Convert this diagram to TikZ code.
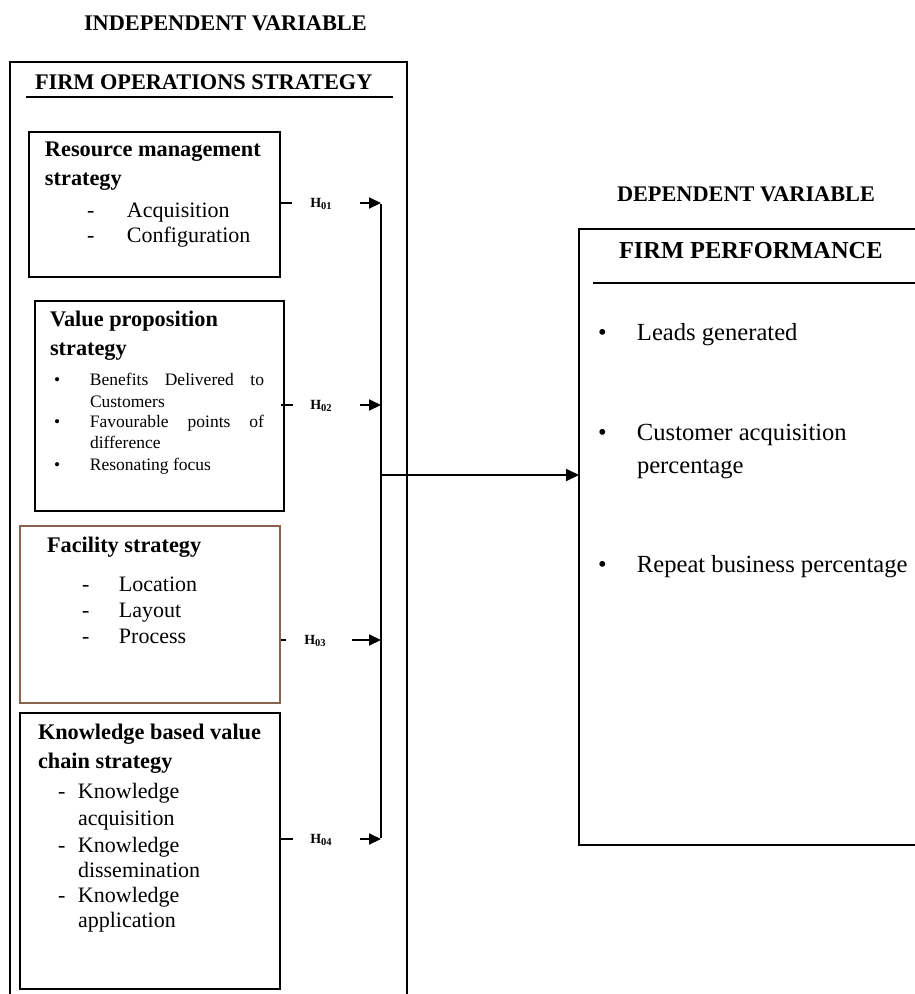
\documentclass[tikz,border=0pt]{standalone}
\usepackage{fontspec}
\setmainfont{Liberation Serif}
\usetikzlibrary{arrows.meta}
\definecolor{brownline}{RGB}{135,98,78}
\newcommand\myhd{\fontsize{22.3}{26}\selectfont\bfseries}
\newcommand\mybd{\fontsize{22}{26}\selectfont}
\newcommand\mysm{\fontsize{17.5}{21}\selectfont}
\newcommand\mybig{\fontsize{24.6}{29}\selectfont}
\newcommand\hlab[1]{\fontsize{14}{16}\selectfont\bfseries H\raisebox{-2.5pt}{\fontsize{10.5}{12}\selectfont #1}}
\begin{document}
\begin{tikzpicture}[x=1pt,y=-1pt,
  lbl/.style={anchor=base west, inner sep=0pt, outer sep=0pt},
  box/.style={draw, line width=2pt, inner sep=0pt, anchor=north west},
  frame/.style={line width=2pt},
  conn/.style={line width=2pt},
  arr/.style={line width=2pt, -{Triangle[length=13pt,width=12pt]}},
  harr/.style={line width=2pt, -{Triangle[length=12pt,width=11pt]}},
  hl/.style={anchor=center, inner sep=0pt}]
\useasboundingbox (0,0) rectangle (914,994);

% headings
\node[lbl, font=\myhd] (indep) at (84,30) {INDEPENDENT VARIABLE};
\node[lbl, font=\myhd] (dep) at (617,201) {DEPENDENT VARIABLE};

% outer frame (open at bottom)
\node[inner sep=0pt, anchor=north west, minimum width=397pt, minimum height=945pt] (outer) at (10,62) {};
\draw[frame] (outer.south west) -- (outer.north west) -- (outer.north east) -- (outer.south east);
\node[lbl, font={\fontsize{22.3}{26}\selectfont\bfseries}] (fos) at (35,89) {FIRM OPERATIONS STRATEGY};
\draw[line width=1.8pt] (26,97) -- (393,97);

% box 1
\node[box, minimum width=251pt, minimum height=145pt] (b1) at (28,131) {};
\node[lbl, font=\myhd] (b1a) at (45,156) {Resource management};
\node[lbl, font=\myhd] (b1b) at (45,185) {strategy};
\node[lbl, font=\mybd] (b1c) at (87,217) {\makebox[40pt][l]{-}Acquisition};
\node[lbl, font=\mybd] (b1d) at (87,242) {\makebox[40pt][l]{-}Configuration};

% box 2
\node[box, minimum width=249pt, minimum height=210pt] (b2) at (34,300) {};
\node[lbl, font=\myhd] (b2a) at (50,326) {Value proposition};
\node[lbl, font=\myhd] (b2b) at (50,355) {strategy};
\node[lbl, font=\mysm] (b2c) at (54,385) {\makebox[36pt][l]{•}\hbox to 174pt{Benefits\hfill Delivered\hfill to}};
\node[lbl, font=\mysm] (b2d) at (90,407) {Customers};
\node[lbl, font=\mysm] (b2e) at (54,427) {\makebox[36pt][l]{•}\hbox to 174pt{Favourable\hfill points\hfill of}};
\node[lbl, font=\mysm] (b2f) at (90,448) {difference};
\node[lbl, font=\mysm] (b2g) at (54,470) {\makebox[36pt][l]{•}Resonating focus};

% box 3
\node[box, draw=brownline, minimum width=260pt, minimum height=177pt] (b3) at (19,525) {};
\node[lbl, font=\myhd] (b3a) at (47,552) {Facility strategy};
\node[lbl, font=\mybd] (b3b) at (82,591) {\makebox[37pt][l]{-}Location};
\node[lbl, font=\mybd] (b3c) at (82,617) {\makebox[37pt][l]{-}Layout};
\node[lbl, font=\mybd] (b3d) at (82,643) {\makebox[37pt][l]{-}Process};

% box 4
\node[box, minimum width=260pt, minimum height=276pt] (b4) at (19,712) {};
\node[lbl, font=\myhd] (b4a) at (38,739) {Knowledge based value};
\node[lbl, font=\myhd] (b4b) at (38,768) {chain strategy};
\node[lbl, font=\mybd] (b4c) at (58,798) {\makebox[20pt][l]{-}Knowledge};
\node[lbl, font=\mybd] (b4d) at (78,825) {acquisition};
\node[lbl, font=\mybd] (b4e) at (58,852) {\makebox[20pt][l]{-}Knowledge};
\node[lbl, font=\mybd] (b4f) at (78,877) {dissemination};
\node[lbl, font=\mybd] (b4g) at (58,902) {\makebox[20pt][l]{-}Knowledge};
\node[lbl, font=\mybd] (b4h) at (78,927) {application};

% right box (right side cut by page edge)
\node[inner sep=0pt, anchor=north west, minimum width=340pt, minimum height=616pt] (perf) at (579,229) {};
\draw[frame] (perf.north east) -- (perf.north west) -- (perf.south west) -- (perf.south east);
\node[lbl, font={\fontsize{24.4}{29}\selectfont\bfseries}] (fp) at (619,258) {FIRM PERFORMANCE};
\draw[line width=1.8pt] (593,283) -- (916,283);
\node[lbl, font=\mybig] (p1) at (598,340) {\makebox[39pt][l]{•}Leads generated};
\node[lbl, font=\mybig] (p2) at (598,440) {\makebox[39pt][l]{•}Customer acquisition};
\node[lbl, font=\mybig] (p3) at (637,473) {percentage};
\node[lbl, font=\mybig] (p4) at (598,572) {\makebox[39pt][l]{•}Repeat business percentage};

% hypothesis connectors
\coordinate (s1) at (292,203);
\coordinate (s2) at (293,405);
\coordinate (s3) at (286,640);
\coordinate (s4) at (293,839);
\coordinate (a1) at (360,203);
\coordinate (a2) at (360,405);
\coordinate (a3) at (352,640);
\coordinate (a4) at (360,839);
\coordinate (v1) at (381,203);
\coordinate (v2) at (381,405);
\coordinate (v3) at (381,640);
\coordinate (v4) at (381,839);
\coordinate (vm) at (381,475);

\draw[conn] (b1.east |- s1) -- (s1);
\draw[conn] ([xshift=-4pt]b2.east |- s2) -- (s2);
\draw[conn] (b3.east |- s3) -- (s3);
\draw[conn] (b4.east |- s4) -- (s4);

\node[hl] (h1) at (321,204) {\hlab{01}};
\node[hl] (h2) at (321,406) {\hlab{02}};
\node[hl] (h3) at (315,641) {\hlab{03}};
\node[hl] (h4) at (321,840) {\hlab{04}};

\draw[harr] (a1) -- (v1);
\draw[harr] (a2) -- (v2);
\draw[harr] (a3) -- (v3);
\draw[harr] (a4) -- (v4);

\draw[conn] ([yshift=-1pt]v1) -- ([yshift=1pt]v4);
\draw[arr] (vm) -- (perf.west |- vm);
\end{tikzpicture}
\end{document}
